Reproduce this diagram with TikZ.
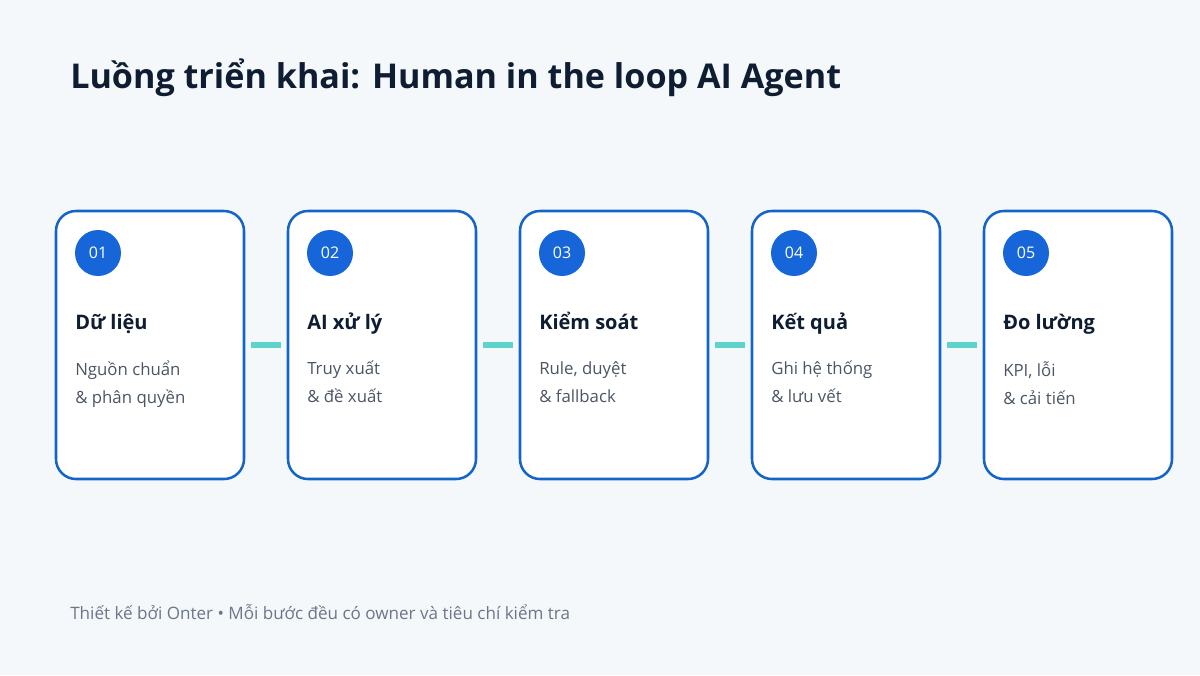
\documentclass[tikz,border=0pt]{standalone}
\usepackage{fontspec}
\setmainfont{Open Sans}
\definecolor{bg}{HTML}{F4F8FB}
\definecolor{blue}{HTML}{1565C8}
\definecolor{dot}{HTML}{1766D9}
\definecolor{ink}{HTML}{0F1D33}
\definecolor{body}{HTML}{4B5565}
\definecolor{teal}{HTML}{5ED3CB}
\definecolor{foot}{HTML}{6B7689}
\begin{document}
\begin{tikzpicture}[x=0.75pt,y=-0.75pt,
 card/.style={draw=blue,line width=1.9pt,fill=white,rounded corners=15pt,minimum width=141pt,minimum height=201pt,inner sep=0pt},
 num/.style={circle,fill=dot,minimum size=34.5pt,inner sep=0pt,text=white,font=\fontsize{12}{14}\selectfont},
 ttl/.style={anchor=base west,inner sep=0pt,text=ink,font=\fontsize{15}{18}\selectfont\bfseries},
 txt/.style={anchor=north west,inner sep=0pt,text=body,align=left,font=\fontsize{12.6}{21}\selectfont},
 link/.style={draw=teal,line width=4.5pt}]
\fill[bg] (0,0) rectangle (1200,675);
\useasboundingbox (0,0) rectangle (1200,675);
\node[anchor=base west,inner sep=0pt,text=ink,font=\fontsize{25.6}{30}\selectfont\bfseries] (title) at (70,88) {Luồng triển khai: Human in the loop AI Agent};
\foreach \i/\t/\a/\b in {0/Dữ liệu/Nguồn chuẩn/\& phân quyền,1/AI xử lý/Truy xuất/\& đề xuất,2/Kiểm soát/{Rule, duyệt}/\& fallback,3/Kết quả/Ghi hệ thống/\& lưu vết,4/Đo lường/{KPI, lỗi}/\& cải tiến}{
 \pgfmathsetmacro\x{56+232*\i}
 \node[card] (c\i) at (\x+94,345) {};
 \node[num] (n\i) at (\x+42,253) {0\the\numexpr\i+1\relax};
 \node[ttl] (t\i) at (\x+19,329) {\t};
 \node[txt] (b\i) at (\x+19,361) {\a\\\b};
}
\foreach \i/\j in {0/1,1/2,2/3,3/4}{
 \path (c\i.east) ++(6,0) coordinate (s\i);
 \path (c\j.west) ++(-6,0) coordinate (e\i);
 \draw[link] (s\i) -- (e\i);
}
\node[anchor=base west,inner sep=0pt,text=foot,font=\fontsize{12.8}{15}\selectfont] (footer) at (70,619) {Thiết kế bởi Onter • Mỗi bước đều có owner và tiêu chí kiểm tra};
\end{tikzpicture}
\end{document}
